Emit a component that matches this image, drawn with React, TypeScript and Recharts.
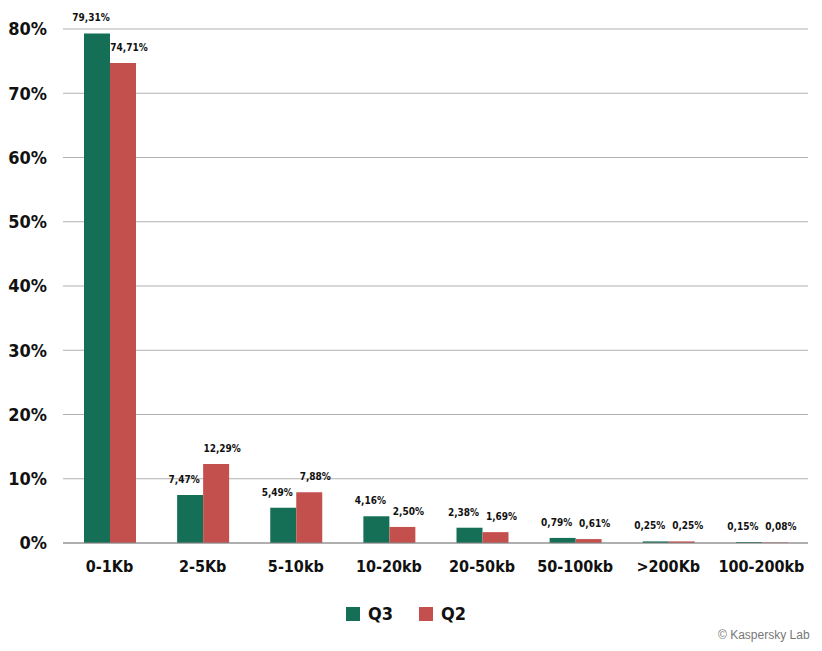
import { BarChart, Bar, XAxis, YAxis, CartesianGrid, LabelList } from 'recharts';

const categories = ['0-1Kb', '2-5Kb', '5-10kb', '10-20kb', '20-50kb', '50-100kb', '>200Kb', '100-200kb'];
const q3 = [79.31, 7.47, 5.49, 4.16, 2.38, 0.79, 0.25, 0.15];
const q2 = [74.71, 12.29, 7.88, 2.5, 1.69, 0.61, 0.25, 0.08];
const yTicks = [0, 10, 20, 30, 40, 50, 60, 70, 80];

const GREEN = '#146f56';
const RED = '#c4504e';
const FONT = '"DejaVu Sans Condensed", "Liberation Sans", sans-serif';

const data = categories.map((name, i) => ({ name, q3: q3[i], q2: q2[i] }));

const fmt = (v: number) => v.toFixed(2).replace('.', ',') + '%';

const makeLabel = (shift: number) => (props: any) => {
  const { x, y, width, value } = props;
  return (
    <text x={x + width / 2 + shift} y={y - 12} textAnchor="middle" fontSize={10} fontWeight="bold" fill="#111" fontFamily={FONT}>
      {fmt(value)}
    </text>
  );
};

export default function App() {
  return (
    <div style={{ position: 'absolute', left: 0, top: 0, width: 822, height: 651, background: '#fff', fontFamily: FONT }}>
      <BarChart width={822} height={651} data={data} margin={{ top: 29, right: 14, bottom: 68, left: 0 }} barGap={0} barSize={26}>
        <CartesianGrid vertical={false} stroke="#b0b0b0" />
        <XAxis
          dataKey="name"
          height={40}
          tickLine={false}
          axisLine={{ stroke: '#888' }}
          tick={{ fontSize: 16, fontWeight: 'bold', fill: '#111', fontFamily: FONT }}
          tickMargin={12}
          interval={0}
        />
        <YAxis
          domain={[0, 80]}
          ticks={yTicks}
          width={63}
          tickLine={false}
          axisLine={false}
          tickFormatter={(v) => `${v}%`}
          tick={{ fontSize: 18, fontWeight: 'bold', fill: '#111', fontFamily: FONT }}
          tickMargin={10}
        />
        <Bar dataKey="q3" fill={GREEN} isAnimationActive={false}>
          <LabelList dataKey="q3" content={makeLabel(-6)} />
        </Bar>
        <Bar dataKey="q2" fill={RED} isAnimationActive={false}>
          <LabelList dataKey="q2" content={makeLabel(6)} />
        </Bar>
      </BarChart>
      <div style={{ position: 'absolute', top: 603, left: 346, display: 'flex', alignItems: 'center', gap: 8, fontSize: 18, fontWeight: 'bold', color: '#111' }}>
        <span style={{ width: 14, height: 14, background: GREEN, display: 'inline-block' }} />
        <span style={{ marginRight: 18 }}>Q3</span>
        <span style={{ width: 14, height: 14, background: RED, display: 'inline-block' }} />
        <span>Q2</span>
      </div>
      <div style={{ position: 'absolute', top: 628, left: 718, fontSize: 12, color: '#777', fontFamily: 'Arial, "Liberation Sans", sans-serif' }}>
        © Kaspersky Lab
      </div>
    </div>
  );
}
